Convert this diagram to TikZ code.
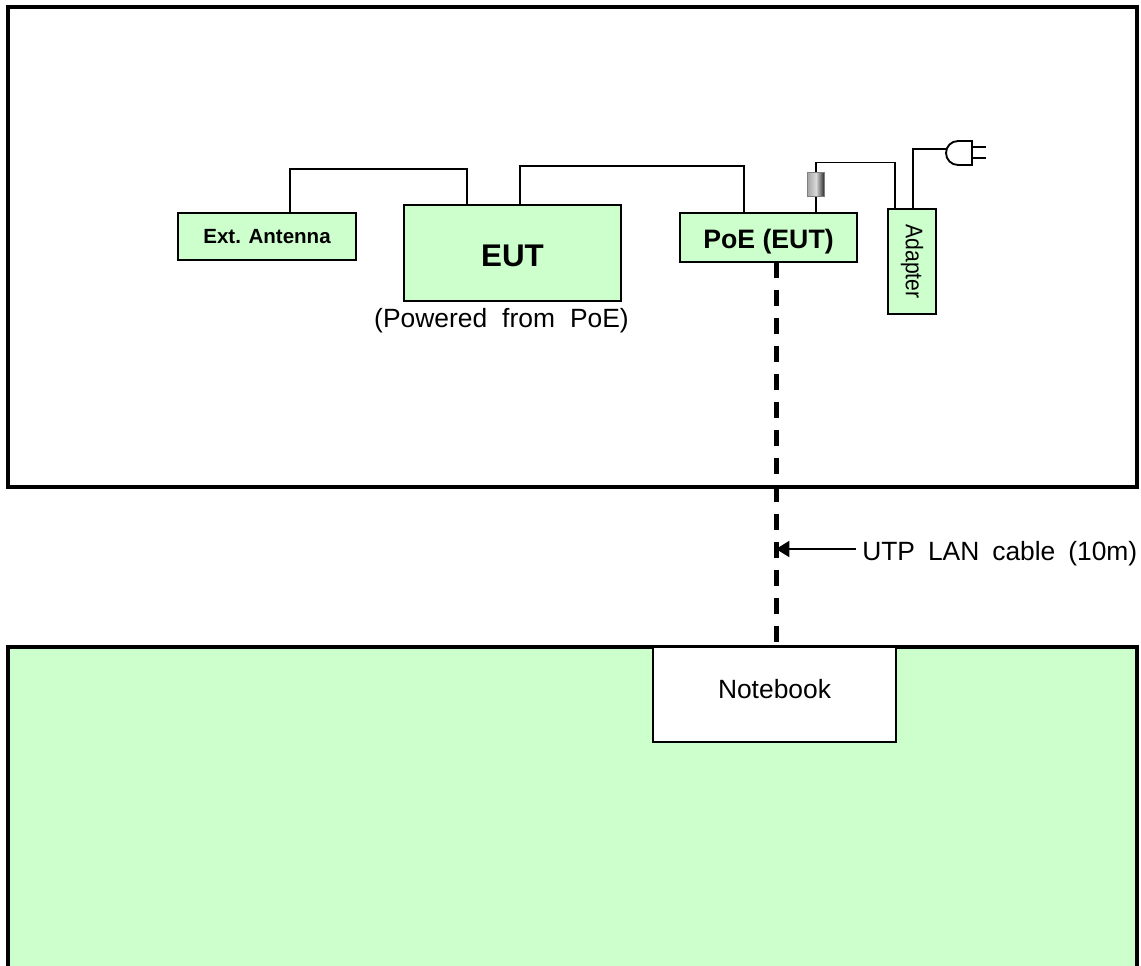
\documentclass[tikz,border=0pt]{standalone}
\usepackage{fontspec}
\setmainfont{Liberation Sans}
\usetikzlibrary{arrows.meta}
\definecolor{boxgreen}{HTML}{CCFFCC}
\newcommand{\wordgap}[1]{\spaceskip=#1\relax}
\tikzset{
	frameline/.style={line width=3pt},
	unit/.style={draw, line width=2pt, fill=boxgreen, inner sep=0pt, text depth=0pt},
	wire/.style={line width=2pt},
	thinwire/.style={line width=1.4pt},
	lbl/.style={inner sep=0pt, font=\fontsize{19.8}{22}\selectfont},
}
\begin{document}
\begin{tikzpicture}[x=0.75pt, y=-0.75pt, >={Triangle[length=10pt, width=12pt]}, line join=miter]
	\useasboundingbox (0,0) rectangle (1141,966);
	% rooms
	\draw[frameline] (8,7) rectangle (1137,487);
	\fill[boxgreen] (8,647) rectangle (1137,966);
	\draw[frameline] (8,966) -- (8,647) -- (1137,647) -- (1137,966);
	% units
	\node[unit, minimum width=133.5pt, minimum height=35.25pt, text height=11pt, font=\bfseries\fontsize{15.4}{16}\selectfont] (ant) at (267,236.5) {Ext. Antenna};
	\node[unit, minimum width=162.75pt, minimum height=72pt, text height=19.8pt, font=\bfseries\fontsize{23.5}{26}\selectfont] (eut) at (512.5,253) {EUT};
	\node[unit, minimum width=132.75pt, minimum height=36.75pt, text height=16.5pt, font=\bfseries\fontsize{20}{22}\selectfont] (poe) at (768.5,237.5) {PoE (EUT)};
	\node[unit, minimum width=36pt, minimum height=78.75pt, font=\fontsize{18}{20}\selectfont] (adapter) at (912,261.5) {\raisebox{\depth}{\rotatebox{-90}{\scalebox{.88}[1]{Adapter}}}};
	\node[draw, line width=1.2pt, fill=white, minimum width=182.25pt, minimum height=71.25pt, inner sep=0pt, text height=14pt, text depth=7.5pt, lbl] (note) at (774.5,694.5) {Notebook};
	\node[lbl, anchor=north] (pow) at (501.5,308) {\wordgap{.57em}(Powered from PoE)};
	\node[lbl, anchor=west, text height=17.5pt, text depth=0pt] (lan) at (862,549) {\wordgap{.49em}UTP LAN cable (10m)};
	\node[draw=gray, line width=.75pt, left color=gray!70, right color=black!85, middle color=gray!30, minimum width=12.5pt, minimum height=18pt, inner sep=0pt] (ferrite) at (816,185) {};
	% pins
	\coordinate (antpin) at (290,213);
	\coordinate (eutant) at (467,205);
	\coordinate (eutpoe) at (520,205);
	\coordinate (poeeut) at (744,213);
	\coordinate (poepin) at (816,213);
	\coordinate (adpin) at (895,209);
	\coordinate (adplug) at (913,209);
	\coordinate (plug) at (946,149);
	\coordinate (cabletop) at (776,262);
	\coordinate (cableend) at (776,642);
	% connectors
	\draw[wire] (antpin) -- ++(0,-44) -| (eutant);
	\draw[wire] (eutpoe) -- ++(0,-39) -| (poeeut);
	\draw[thinwire] (poepin) -- (ferrite.south);
	\draw[thinwire] (ferrite.north) -- ++(0,-10) -| (adpin);
	\draw[thinwire] (adplug) |- (plug);
	\draw[line width=3.75pt, dash pattern=on 12pt off 9pt] (cabletop) -- (cableend);
	\draw[->, line width=1.5pt] (lan.west) ++(-6,0) -- (lan.west -| cabletop);
	% plug
	\draw[line width=1.4pt, fill=white] (972,141) -- (958,141) arc[start angle=-90, end angle=-270, radius=12] -- (972,165) -- cycle;
	\draw[line width=1.4pt] (972,147) -- (986,147) (972,158) -- (986,158);
\end{tikzpicture}
\end{document}
